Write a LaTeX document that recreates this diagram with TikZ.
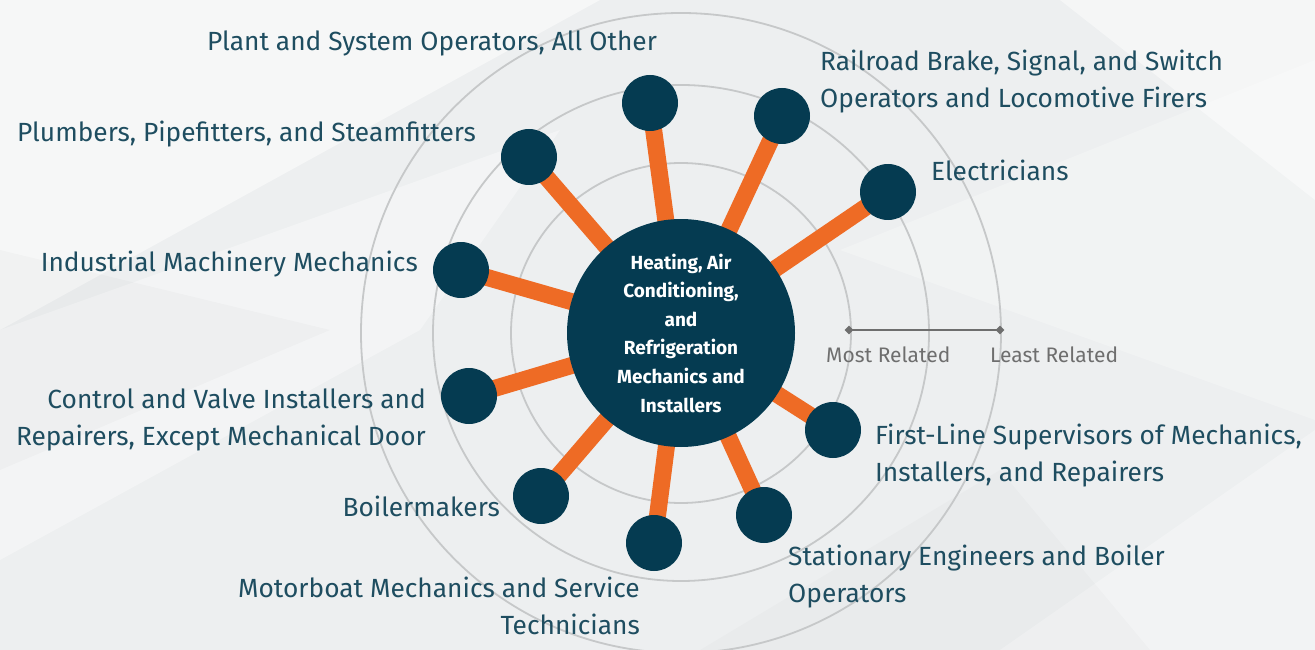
\documentclass[tikz,border=0pt]{standalone}
\usepackage{fontspec}
\setmainfont{Fira Sans}
\usetikzlibrary{shapes.geometric}
\definecolor{navy}{HTML}{053B51}
\definecolor{orng}{HTML}{EE6B25}
\definecolor{lbl}{HTML}{1E4D60}
\definecolor{ringc}{HTML}{C6C8C9}
\definecolor{barc}{HTML}{6E6E6E}
\definecolor{bgc}{HTML}{EDEFF0}
\pgfdeclarelayer{bg}\pgfdeclarelayer{edges}\pgfsetlayers{bg,edges,main}
\begin{document}
\begin{tikzpicture}[x=1pt,y=-1pt,
 hub/.style={circle,fill=navy,minimum size=228pt,inner sep=0,text=white,font=\fontsize{19}{28.6}\selectfont\bfseries,align=center},
 occ/.style={circle,fill=navy,minimum size=56pt,inner sep=0},
 spoke/.style={draw=orng,line width=17pt},
 lab/.style={text=lbl,font=\fontsize{26.3}{37}\selectfont,inner sep=0},
 ringline/.style={draw=ringc,line width=1.8pt},
 scalebar/.style={draw=barc,line width=2.5pt},
 tick/.style={diamond,fill=barc,minimum size=9pt,inner sep=0},
 scalelab/.style={text=barc,font=\fontsize{21}{24}\selectfont,inner sep=0,anchor=base west}
]
\useasboundingbox (0,0) rectangle (1315,650);
\begin{pgfonlayer}{bg}
\fill[bgc] (0,0) rectangle (1315,650);
\fill[white,opacity=0.5] (0,0) -- (600,0) -- (0,330) -- cycle;
\fill[white,opacity=0.35] (0,330) -- (560,130) -- (420,330) -- (0,560) -- cycle;
\fill[white,opacity=0.45] (1060,0) -- (1315,0) -- (1315,200) -- cycle;
\fill[white,opacity=0.25] (840,250) -- (1315,60) -- (1315,420) -- cycle;
\fill[black,opacity=0.02] (0,250) -- (330,330) -- (0,470) -- cycle;
\fill[white,opacity=0.3] (1000,650) -- (1315,430) -- (1315,650) -- cycle;
\fill[black,opacity=0.015] (700,650) -- (1000,470) -- (1150,650) -- cycle;
\end{pgfonlayer}

\node[hub] (c) at (681,333) {Heating, Air\\Conditioning,\\and\\Refrigeration\\Mechanics and\\Installers};

\begin{pgfonlayer}{bg}
\draw[ringline] (c.center) circle[radius=170];
\draw[ringline] (c.center) circle[radius=248];
\draw[ringline] (c.center) circle[radius=320];
\end{pgfonlayer}

\node[occ] (plant) at (650,103) {};
\node[occ] (rail) at (782,116) {};
\node[occ] (elec) at (888,192) {};
\node[occ] (plumb) at (529,157) {};
\node[occ] (indus) at (461,270) {};
\node[occ] (ctrl) at (469,396) {};
\node[occ] (boil) at (541,496) {};
\node[occ] (motor) at (654,543) {};
\node[occ] (stat) at (764,515) {};
\node[occ] (first) at (833,430) {};

\begin{pgfonlayer}{edges}
\foreach \n in {plant,rail,elec,plumb,indus,ctrl,boil,motor,stat,first}
  \draw[spoke] (c.center) -- (\n.center);
\end{pgfonlayer}

\node[lab,anchor=base west] (tplant) at (207,51) {Plant and System Operators, All Other};
\node[lab,anchor=base west,align=left] (trail) at (820,108) {Railroad Brake, Signal, and Switch\\Operators and Locomotive Firers};
\node[lab,anchor=base west] (telec) at (931,180) {Electricians};
\node[lab,anchor=base west] (tplumb) at (17,142) {Plumbers, Pipefitters, and Steamfitters};
\node[lab,anchor=base east] (tindus) at (418,271) {Industrial Machinery Mechanics};
\node[lab,anchor=base east,align=right] (tctrl) at (426,445) {Control and Valve Installers and\\Repairers, Except Mechanical Door};
\node[lab,anchor=base east] (tboil) at (500,516) {Boilermakers};
\node[lab,anchor=base east,align=right] (tmotor) at (640,634) {Motorboat Mechanics and Service\\Technicians};
\node[lab,anchor=base west,align=left] (tstat) at (788,602) {Stationary Engineers and Boiler\\Operators};
\node[lab,anchor=base west,align=left] (tfirst) at (875,481) {First-Line Supervisors of Mechanics,\\Installers, and Repairers};

\node[tick] (most) at (849,330) {};
\node[tick] (least) at (1000,330) {};
\draw[scalebar] (most.center) -- (least.center);
\node[scalelab] (tmost) at (826,362) {Most Related};
\node[scalelab] (tleast) at (990,362) {Least Related};
\end{tikzpicture}
\end{document}
